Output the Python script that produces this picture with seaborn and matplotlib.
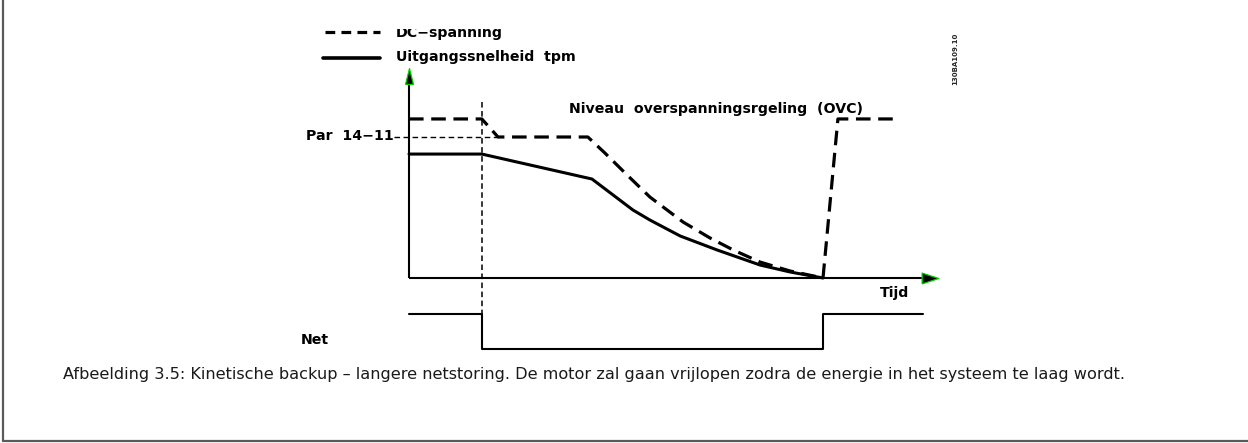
import numpy as np
import pandas as pd
import matplotlib
matplotlib.use("Agg")
import matplotlib.pyplot as plt
from matplotlib.lines import Line2D
from matplotlib.transforms import Bbox, TransformedBbox, IdentityTransform
import seaborn as sns

# Time in arbitrary units (mains returns at t = 10); level relative to Par 14-11 = 1
dc_t = [0.0, 1.76, 2.15, 4.32, 4.73, 5.27, 5.82, 6.62, 7.27, 7.83, 8.48, 9.20, 10.0, 10.36, 11.74]
dc_v = [1.128, 1.128, 1.0, 1.0, 0.887, 0.730, 0.574, 0.397, 0.284, 0.199, 0.113, 0.050, 0.0, 1.128, 1.128]

speed_t = [0.0, 1.76, 4.42, 5.41, 5.82, 6.55, 7.44, 8.48, 9.20, 10.0]
speed_v = [0.879, 0.879, 0.702, 0.482, 0.411, 0.298, 0.199, 0.092, 0.043, 0.0]

net_t = [0.0, 1.76, 1.76, 10.0, 10.0, 12.42]
net_v = [-0.255, -0.255, -0.504, -0.504, -0.255, -0.255]

t_fault = 1.76
par_level = 1.0

legend_labels = ["DC\u2212spanning", "Uitgangssnelheid  tpm"]
ovc_label = "Niveau  overspanningsrgeling  (OVC)"
par_label = "Par  14\u221211"
time_label = "Tijd"
net_label = "Net"
drawing_id = "130BA109.10"
caption = ("Afbeelding 3.5: Kinetische backup \u2013 langere netstoring. "
           "De motor zal gaan vrijlopen zodra de energie in het systeem te laag wordt.")

sns.set_style("white")
plt.rcParams["font.family"] = ["DejaVu Sans"]
plt.rcParams["lines.scale_dashes"] = False

W, H = 1248, 443
fig = plt.figure(figsize=(W / 100, H / 100), dpi=100)
ax = fig.add_axes([0, 0, 1, 1])

# diagram scale: origin at the axes corner, 41.4 px per time unit, 141 px per level unit
x0, y0, sx, sy = 409, 278, 41.4, 141.0
XLIM = (-x0 / sx, (W - x0) / sx)
YLIM = ((y0 - H) / sy, y0 / sy)


def fpos(px, py):
    return px / W, 1 - py / H


dc = pd.DataFrame({"t": dc_t, "v": dc_v})
speed = pd.DataFrame({"t": speed_t, "v": speed_v})
net = pd.DataFrame({"t": net_t, "v": net_v})

# axes with narrow arrow heads
up_head = [(-1, -2), (1, -2), (0, 2), (-1, -2)]
right_head = [(-2, -1.3), (2, 0), (-2, 1.3), (-2, -1.3)]
ax.plot([0, 0], [0, 1.39], color="black", lw=1.5, solid_capstyle="butt")
ax.plot([0, 12.4], [0, 0], color="black", lw=1.5, solid_capstyle="butt")
ax.scatter([0], [1.436], marker=up_head, s=130, color="black", edgecolor="#00d000",
           linewidth=0.9, zorder=5)
ax.scatter([12.58], [0], marker=right_head, s=145, color="black", edgecolor="#00d000",
           linewidth=0.9, zorder=5)

# Par 14-11 reference and fault instant
ax.plot([-0.36, 2.15], [par_level, par_level], color="black", lw=1.0, linestyle=(0, (4, 2.5)))
ax.plot([t_fault, t_fault], [1.248, -0.255], color="black", lw=1.1, linestyle=(0, (4, 2.5)))

# signals
sns.lineplot(data=speed, x="t", y="v", ax=ax, sort=False, estimator=None,
             color="black", linewidth=2.2)
sns.lineplot(data=dc, x="t", y="v", ax=ax, sort=False, estimator=None,
             color="black", linewidth=2.3, linestyle=(0, (10.5, 5.5)))
sns.lineplot(data=net, x="t", y="v", ax=ax, sort=False, estimator=None,
             color="black", linewidth=1.5)
ax.set_xlim(*XLIM)
ax.set_ylim(*YLIM)
ax.axis("off")

# legend
fig.add_artist(Line2D([325 / W, 380 / W], [1 - 32 / H] * 2, color="black", lw=2.3,
                      linestyle=(0, (7, 4.5))))
fig.add_artist(Line2D([323 / W, 380 / W], [1 - 58 / H] * 2, color="black", lw=2.6))
bold = dict(fontsize=10.2, fontweight="bold", color="black")
t1 = fig.text(*fpos(396, 33), legend_labels[0], va="center", ha="left", **bold)
t1.set_clip_box(TransformedBbox(Bbox([[0, 0], [W, H - 29]]), IdentityTransform()))
t1.set_clip_on(True)
fig.text(*fpos(396, 57.5), legend_labels[1], va="center", ha="left", **bold)

fig.text(*fpos(569, 109), ovc_label, va="center", ha="left", **bold)
fig.text(*fpos(394, 136), par_label, va="center", ha="right", **bold)
fig.text(*fpos(880, 293), time_label, va="center", ha="left", **bold)
fig.text(*fpos(301, 340), net_label, va="center", ha="left", **bold)
fig.text(*fpos(955, 59), drawing_id, va="center", ha="center", rotation=90,
         fontsize=5.0, fontweight="bold")

fig.text(*fpos(63, 374), caption, va="center", ha="left", fontsize=11.6, color="#1a1a1a")

# page frame
fig.add_artist(Line2D([2.5 / W, 2.5 / W], [1, 1 - 441 / H], color="#5a5a5a", lw=1.6))
fig.add_artist(Line2D([2.5 / W, 1], [1 - 441 / H] * 2, color="#5a5a5a", lw=1.6))

fig.savefig("out.png", dpi=100, facecolor="white")
